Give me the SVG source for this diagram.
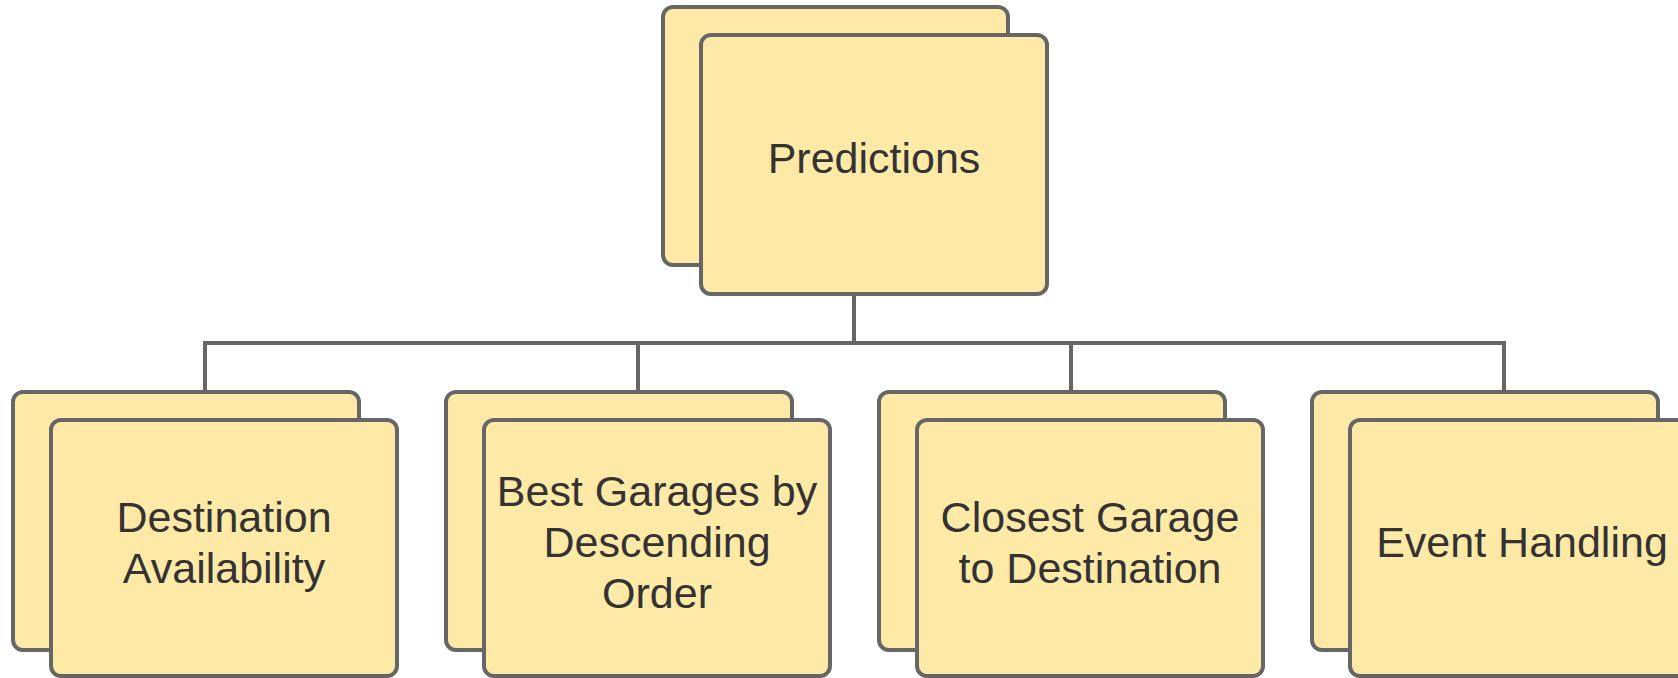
<svg xmlns="http://www.w3.org/2000/svg" width="1678" height="678" viewBox="0 0 1678 678">
<style>
.card{fill:#FFE9A6;stroke:#666666;stroke-width:4}
.lbl{font-family:"Liberation Sans",Arial,sans-serif;font-size:43px;fill:#333333;text-anchor:middle}
.conn{fill:none;stroke:#666666;stroke-width:4}
</style>
<rect width="1678" height="678" fill="#ffffff"/>
<g id="connectors">
<path class="conn" d="M854 293 V343"/>
<path class="conn" d="M205 392 V343 H1504 V392"/>
<path class="conn" d="M638 343 V392"/>
<path class="conn" d="M1071 343 V392"/>
</g>
<g id="predictions">
<rect class="card" x="663" y="7" width="345" height="258" rx="10"/>
<rect class="card" x="701" y="35" width="346" height="259" rx="10"/>
<text class="lbl" x="874" y="173">Predictions</text>
</g>
<g id="destination-availability">
<rect class="card" x="13" y="392" width="346" height="258" rx="10"/>
<rect class="card" x="51" y="420" width="346" height="256" rx="10"/>
<text class="lbl" x="224" y="532">Destination</text>
<text class="lbl" x="224" y="583">Availability</text>
</g>
<g id="best-garages">
<rect class="card" x="446" y="392" width="346" height="258" rx="10"/>
<rect class="card" x="484" y="420" width="346" height="256" rx="10"/>
<text class="lbl" x="657" y="506">Best Garages by</text>
<text class="lbl" x="657" y="557">Descending</text>
<text class="lbl" x="657" y="608">Order</text>
</g>
<g id="closest-garage">
<rect class="card" x="879" y="392" width="346" height="258" rx="10"/>
<rect class="card" x="917" y="420" width="346" height="256" rx="10"/>
<text class="lbl" x="1090" y="532">Closest Garage</text>
<text class="lbl" x="1090" y="583">to Destination</text>
</g>
<g id="event-handling">
<rect class="card" x="1312" y="392" width="346" height="258" rx="10"/>
<rect class="card" x="1350" y="420" width="346" height="256" rx="10"/>
<text class="lbl" x="1522" y="557">Event Handling</text>
</g>
</svg>
